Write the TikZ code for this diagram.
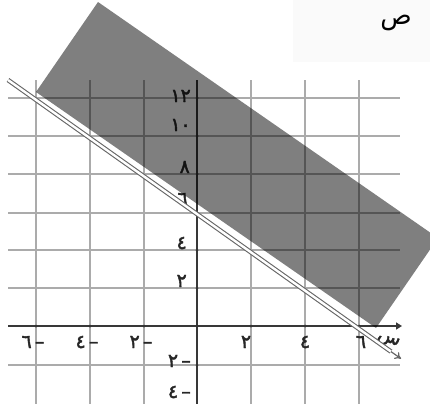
\documentclass[tikz,border=0pt]{standalone}
\usepackage{fontspec}
\usetikzlibrary{arrows.meta}
\newfontfamily\arabicfont[Script=Arabic]{DejaVu Sans}
\newfontfamily\arabicbold[Script=Arabic, FakeBold=2]{DejaVu Sans}
\TeXXeTstate=1
\tikzset{
  gridline/.style={draw=black!33, line width=1.3pt},
  axisline/.style={draw=black!78, line width=2.2pt},
  lbl/.style={font=\arabicbold\fontsize{19}{19}\selectfont, text=black!85, inner sep=0pt},
  tickdot/.style={fill=black!80, circle, inner sep=0pt, minimum size=3pt},
  shade/.style={fill=black, fill opacity=0.5},
  bnd/.style={draw=black!60, double=white, double distance=2.4pt, line width=1.1pt},
}
\begin{document}
\begin{tikzpicture}[x=1pt,y=-1pt]
\useasboundingbox (0,0) rectangle (430,404);
\clip (0,0) rectangle (430,404);
% light panel top right
\fill[black!2] (293,0) rectangle (430,62);
\node[font=\arabicfont\fontsize{26}{26}\selectfont, anchor=base, inner sep=0pt] (title) at (396,25) {\beginR ص\endR};
% grid
\foreach \yy in {98,136,174,213,250,288,365}
  \draw[gridline] (8,\yy) -- (400,\yy);
\foreach \xx in {36,90,144,251,305,359}
  \draw[gridline] (\xx,80) -- (\xx,404);
% axes
\coordinate (xl) at (8,326);
\coordinate (xr) at (402,326);
\coordinate (yt) at (197,80);
\coordinate (yb) at (197,404);
\draw[axisline, -{Triangle[length=6pt,width=7pt]}] (xl) -- (xr);
\draw[axisline] (yt) -- (yb);
\foreach \xx in {36,90,144,197,251,305,359}
  \node[tickdot] at (\xx,326) {};
\foreach \yy in {98,136,174,213,250,288,365}
  \node[tickdot] at (197,\yy) {};
% y labels
\node[lbl, anchor=east] (y12) at (191,96) {١٢};
\node[lbl, anchor=east] (y10) at (191,125) {١٠};
\node[lbl, anchor=east] (y8) at (190,167) {٨};
\node[lbl, anchor=east] (y6) at (188,199) {٦};
\node[lbl, anchor=east] (y4) at (187,243) {٤};
\node[lbl, anchor=east] (y2) at (187,281) {٢};
\node[lbl, anchor=east] (ym2) at (191,361) {٢\,–};
\node[lbl, anchor=east] (ym4) at (191,392) {٤\,–};
% x labels
\node[lbl] (xm6) at (33,342) {٦\,–};
\node[lbl] (xm4) at (87,342) {٤\,–};
\node[lbl] (xm2) at (141,342) {٢\,–};
\node[lbl] (x2) at (246,342) {٢};
\node[lbl] (x4) at (305,342) {٤};
\node[lbl] (x6) at (361,342) {٦};
\node[lbl, rotate=-20] (xs) at (388,341) {\beginR س\endR};
% shaded half-plane
\fill[shade] (98,2) -- (36,92) -- (376,328) -- (438,238) -- cycle;
% boundary line x+y=6
\coordinate (L1) at (8,80);
\coordinate (L2) at (391,351.6);
\coordinate (L3) at (401,358.7);
\draw[bnd] (L1) -- (L2);
\draw[black!60, line width=1.2pt, -{To[length=6pt,width=8pt]}] (L2) -- (L3);
\end{tikzpicture}
\end{document}
